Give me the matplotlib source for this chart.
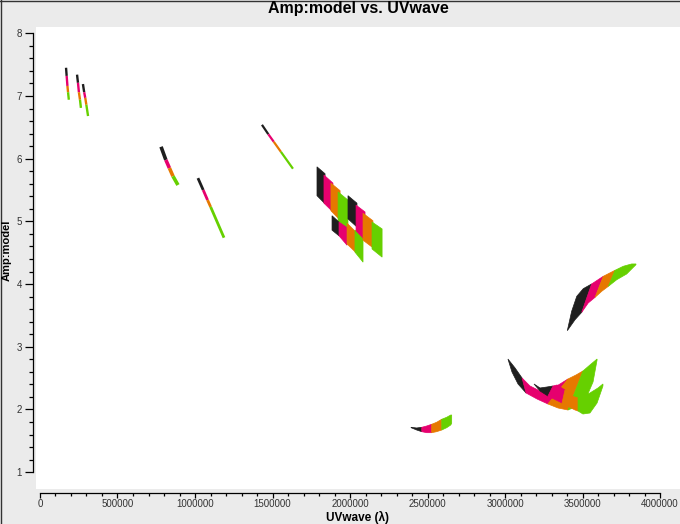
import numpy as np
import matplotlib
matplotlib.use('Agg')
import matplotlib.pyplot as plt
from matplotlib.ticker import FixedLocator
from matplotlib.lines import Line2D

plt.rcParams['font.family'] = ['Liberation Sans', 'DejaVu Sans']

# colour per spectral window (spw 0..3)
spw_colors = ['#1e1e1e', '#e6006e', '#e67800', '#66d000']

# thin tracks: uv / amp at the spw boundaries (start, 3 breaks, end)
track_uv = [
    [168e3, 172e3, 177e3, 181e3, 186e3],
    [239e3, 245e3, 251e3, 258e3, 264e3],
    [277e3, 285e3, 292e3, 299e3, 310e3],
    [781e3, 812e3, 835e3, 858e3, 890e3],
    [1019e3, 1053e3, 1081e3, 1101e3, 1187e3],
    [1432e3, 1473e3, 1508e3, 1554e3, 1632e3],
]
track_amp = [
    [7.45, 7.32, 7.16, 7.06, 6.94],
    [7.34, 7.21, 7.06, 6.94, 6.81],
    [7.19, 7.06, 6.97, 6.86, 6.68],
    [6.19, 5.98, 5.85, 5.72, 5.58],
    [5.69, 5.50, 5.34, 5.23, 4.74],
    [6.54, 6.39, 6.27, 6.11, 5.84],
]
track_lw = [1.7, 1.7, 1.7, 2.6, 2.0, 1.6]

# slanted blocks near 2 Mlambda, one block per spw
para1_uv_left = [1787e3, 1832e3, 1877e3, 1923e3]
para1_uv_right = [1839e3, 1890e3, 1936e3, 1987e3]
para1_top_left = [5.87, 5.74, 5.61, 5.47]
para1_top_right = [5.76, 5.61, 5.49, 5.34]
para1_bot_left = [5.41, 5.29, 5.17, 5.01]
para1_bot_right = [5.28, 5.15, 5.02, 4.86]

para2_uv_left = [1884e3, 1929e3, 1981e3, 2032e3]
para2_uv_right = [1929e3, 1981e3, 2039e3, 2084e3]
para2_top_left = [5.09, 4.99, 4.97, 4.86]
para2_top_right = [4.99, 4.90, 4.83, 4.74]
para2_bot_left = [4.86, 4.77, 4.64, 4.51]
para2_bot_right = [4.77, 4.62, 4.50, 4.35]

para3_uv_left = [1987e3, 2039e3, 2084e3, 2142e3]
para3_uv_right = [2045e3, 2097e3, 2148e3, 2207e3]
para3_top_left = [5.41, 5.26, 5.13, 4.99]
para3_top_right = [5.29, 5.15, 5.01, 4.88]
para3_bot_left = [5.04, 4.85, 4.70, 4.56]
para3_bot_right = [4.91, 4.70, 4.58, 4.43]

# curved features: outline per spw
arcR_uv = [
    [3402e3, 3430e3, 3463e3, 3505e3, 3559e3, 3495e3, 3452e3],
    [3559e3, 3634e3, 3581e3, 3537e3, 3495e3],
    [3634e3, 3710e3, 3667e3, 3624e3, 3581e3],
    [3710e3, 3763e3, 3817e3, 3845e3, 3845e3, 3828e3, 3785e3, 3721e3, 3667e3],
]
arcR_amp = [
    [3.257, 3.566, 3.805, 3.927, 4.002, 3.550, 3.432],
    [4.002, 4.124, 3.789, 3.699, 3.550],
    [4.124, 4.220, 3.965, 3.885, 3.789],
    [4.220, 4.284, 4.321, 4.321, 4.309, 4.268, 4.161, 4.070, 3.965],
]

arcS_uv = [
    [2394e3, 2430e3, 2463e3, 2463e3, 2430e3, 2394e3],
    [2463e3, 2495e3, 2527e3, 2527e3, 2495e3, 2463e3],
    [2527e3, 2559e3, 2592e3, 2592e3, 2559e3, 2527e3],
    [2592e3, 2624e3, 2650e3, 2656e3, 2656e3, 2650e3, 2624e3, 2592e3],
]
arcS_amp = [
    [1.716, 1.705, 1.716, 1.646, 1.673, 1.710],
    [1.716, 1.737, 1.764, 1.630, 1.630, 1.646],
    [1.764, 1.796, 1.844, 1.673, 1.646, 1.630],
    [1.844, 1.876, 1.912, 1.912, 1.780, 1.753, 1.710, 1.673],
]

arcV_uv = [
    [3019e3, 3065e3, 3110e3, 3136e3, 3084e3, 3045e3],
    [3110e3, 3161e3, 3226e3, 3290e3, 3355e3, 3406e3, 3277e3, 3207e3, 3136e3],
    [3406e3, 3458e3, 3503e3, 3406e3, 3342e3, 3277e3],
    [3503e3, 3548e3, 3594e3, 3594e3, 3568e3, 3529e3, 3471e3, 3406e3],
]
arcV_amp = [
    [2.805, 2.662, 2.502, 2.263, 2.407, 2.598],
    [2.502, 2.375, 2.295, 2.311, 2.407, 2.486, 2.088, 2.167, 2.263],
    [2.486, 2.550, 2.614, 1.992, 2.024, 2.088],
    [2.614, 2.710, 2.805, 2.789, 2.439, 2.215, 2.056, 1.992],
]

arcW_uv = [
    [3187e3, 3226e3, 3271e3, 3310e3, 3277e3, 3226e3],
    [3310e3, 3336e3, 3387e3, 3368e3, 3329e3, 3277e3],
    [3387e3, 3432e3, 3471e3, 3471e3, 3452e3, 3387e3, 3368e3],
    [3471e3, 3548e3, 3600e3, 3632e3, 3632e3, 3594e3, 3548e3, 3503e3, 3471e3],
]
arcW_amp = [
    [2.407, 2.343, 2.359, 2.375, 2.215, 2.295],
    [2.375, 2.391, 2.311, 2.104, 2.151, 2.215],
    [2.311, 2.215, 2.183, 1.976, 1.992, 2.072, 2.104],
    [2.183, 2.263, 2.343, 2.407, 2.375, 2.104, 1.944, 1.928, 1.976],
]

x_ticks = np.arange(0, 4000001, 500000)
y_ticks = np.arange(1, 9)

fig = plt.figure(figsize=(6.8, 5.24), dpi=100, facecolor='#ebebeb')
ax = fig.add_axes([36 / 680, 35 / 524, 644 / 680, 462 / 524])
ax.set_facecolor('white')

for uv, amp, lw in zip(track_uv, track_amp, track_lw):
    for k in range(4):
        ax.plot(uv[k:k + 2], amp[k:k + 2], color=spw_colors[k], lw=lw,
                solid_capstyle='butt')

paras = [
    (para1_uv_left, para1_uv_right, para1_top_left, para1_top_right, para1_bot_left, para1_bot_right),
    (para2_uv_left, para2_uv_right, para2_top_left, para2_top_right, para2_bot_left, para2_bot_right),
    (para3_uv_left, para3_uv_right, para3_top_left, para3_top_right, para3_bot_left, para3_bot_right),
]
for ul, ur, tl, tr, bl, br in paras:
    for k in range(4):
        ax.fill([ul[k], ur[k], ur[k], ul[k]], [tl[k], tr[k], br[k], bl[k]],
                facecolor=spw_colors[k], edgecolor=spw_colors[k], lw=0.5)

for arc_uv, arc_amp in [(arcR_uv, arcR_amp), (arcS_uv, arcS_amp),
                        (arcV_uv, arcV_amp), (arcW_uv, arcW_amp)]:
    for k in range(4):
        ax.fill(arc_uv[k], arc_amp[k], facecolor=spw_colors[k],
                edgecolor=spw_colors[k], lw=0.5)

ax.set_xlim(-25800, 4129000)
ax.set_ylim(0.732, 8.10)

for s in ['top', 'right']:
    ax.spines[s].set_visible(False)
ax.spines['left'].set_position(('outward', 2.2))
ax.spines['bottom'].set_position(('outward', 2.9))
ax.spines['left'].set_bounds(1, 8)
ax.spines['bottom'].set_bounds(0, 4000000)
ax.spines['left'].set_linewidth(0.9)
ax.spines['bottom'].set_linewidth(0.9)

ax.xaxis.set_major_locator(FixedLocator(x_ticks))
ax.xaxis.set_minor_locator(FixedLocator(np.arange(0, 4000001, 100000)))
ax.yaxis.set_major_locator(FixedLocator(y_ticks))
ax.yaxis.set_minor_locator(FixedLocator(np.arange(1, 8.01, 0.2)))
ax.set_xticklabels([str(int(t)) for t in x_ticks])
ax.set_yticklabels([str(int(t)) for t in y_ticks])

ax.tick_params(axis='y', which='major', length=6, width=0.9, labelsize=7,
               pad=2, labelcolor='#333333')
ax.tick_params(axis='y', which='minor', length=3, width=0.9)
ax.tick_params(axis='x', which='major', length=3.5, width=0.9, labelsize=7,
               pad=0.5, labelcolor='#333333')
ax.tick_params(axis='x', which='minor', length=2, width=0.9)

fig.text(358 / 680, 1 - 9 / 524, 'Amp:model vs. UVwave', ha='center',
         va='center', fontsize=11.5, fontweight='bold')
fig.text(358 / 680, 1 - 517 / 524, 'UVwave (λ)', ha='center', va='center',
         fontsize=8.5, fontweight='bold')
fig.text(7 / 680, 1 - 250 / 524, 'Amp:model', ha='center', va='center',
         rotation=90, fontsize=8, fontweight='bold')

fig.add_artist(Line2D([0.5 / 680, 0.5 / 680], [0, 1], color='#333333', lw=1,
                      transform=fig.transFigure))
fig.add_artist(Line2D([0, 1], [1 - 0.5 / 524, 1 - 0.5 / 524], color='#333333',
                      lw=1, transform=fig.transFigure))

fig.savefig('out.png', dpi=100, facecolor=fig.get_facecolor())
